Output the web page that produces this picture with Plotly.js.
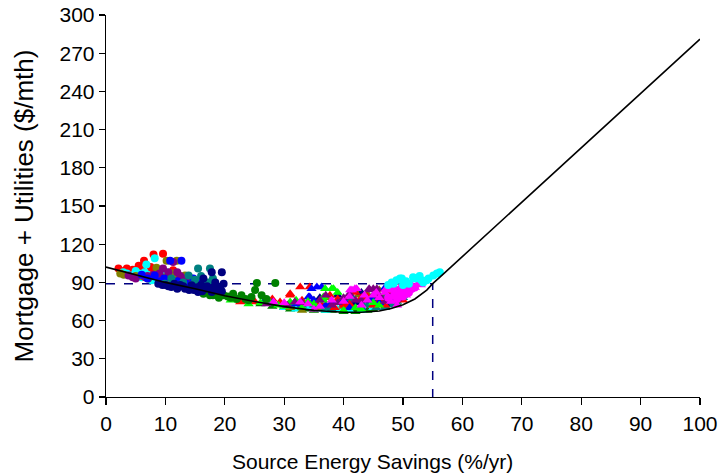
<!DOCTYPE html>
<html>
<head>
<meta charset="utf-8">
<script src="https://cdn.plot.ly/plotly-3.0.1.min.js"></script>
<style>html,body{margin:0;padding:0;background:#fff;}#chart{width:720px;height:475px;}</style>
</head>
<body>
<div id="chart"></div>
<script>
// ---- Data ----
const xTicks = [0,10,20,30,40,50,60,70,80,90,100];
const yTicks = [0,30,60,90,120,150,180,210,240,270,300];

const curveX = [0,5,10,15,20,25,30,35,40,43,46,48,50,52,54,55,57,100];
const curveY = [102,96,90,85,79.5,75,71,68,66.5,66.5,67.5,69.5,72.5,77,84,89,97.5,281];

const refX = [0,55,55];
const refY = [89,89,0];

// circles
const redCircX = [2.1,3.5,5.2,6.4,8.0,9.6,8.2,11.3,10.8,4.5,7.0,12.0,3.0,4,6,7.5,9,10,5.5];
const redCircY = [101,101,99.5,107,112,112.5,98,99.5,93,100,97,96,99,98,100,102,99,96,103];
const cyanCircX = [8.2,6.8,2.9,4.3,10.2,9.4,6.0,7.7,5.5,11.5,3.5,5,7,8.8,10.5,12,6.5,
                   48.4,48.1,48.9,49.5,49.8,51.7,52,53.4,54,54.3,55.1,55.7,56.2,50.5,52.8,47.5,51,53,50];
const cyanCircY = [109,104,98,95.5,98,95.5,94,91.6,97,94,97,99,96,97,95,93,98,
                   89,90,91.6,93,93,94,93,90,91.6,93,95.5,97,98,91,95,88,89,92,88];
const oliveCircX = [10.2,11.9,8.5,2.4,5.0,12.2,13.3,7.1,9.0,14.5,3,6,10,11,13];
const oliveCircY = [107,107,101.5,97,95,95.5,95.5,93,92,90,96,95,94,97,92];
const purpleCircX = [11.3,9.6,13.0,6.6,3.8,13.6,8.0,12.0,5.0,4.5,7,9,10.5,12.5,14];
const purpleCircY = [106,101,93,94,95.5,91.6,96,98,93,94,95,97,98,95,94];
const blueCircX = [10.8,12.7,8.2,11.3,14.7,6.0,9.8,7,9,12,13.5,16];
const blueCircY = [107,107,95.5,90,93,96,93,93,91,91,89,91];
const tealCircX = [15.5,17.5,13.9,12.2,17.2,9.9,15.0,11.0,13,14.5,16,18];
const tealCircY = [101,101,95.5,87.7,90,89,92,93,90,88,95,93];
const navyCircX = [17.8,19.5,16.4,18.4,14.4,11.0,13.3,16.7,19.2,8.8,15.5,17.8,12.5,10.0,15.0,18.0,19.5,14.0,16.0,
                   12,13,14.8,16.2,17,18.6,19.8,11.5,10.5,9.5];
const navyCircY = [98,98,93,90,87.7,86.4,85,85,86.4,89,82.5,82.5,88,88,86,86,83,84,88,
                   85,87,84,83,87,84,89,89,87,88];
const greenCircX = [16.4,19.8,21.4,22.8,24.5,26.2,25.4,28.5,25.1,18.0,23.5,21.0,27.0,20.5,22,24,19,17.5];
const greenCircY = [81,80,81,80,78.5,80,89.5,89.5,84,80,77,78,77,79,77,76,78,80];
const magentaCircX = [48.5,49.5,50.5,51.5,49,50,52,48,51,47.5];
const magentaCircY = [80,82,84,85,77,79,86,85,82,78];

// triangles
const redTriX = [18.6,22.6,25.1,29.3,31,31,32.7,34.3,34.9,37.7,46.5,47,46,40,43,49,38.5,
                 33,36,39,41,44,45,48,50,28,24,42,47.5];
const redTriY = [81,74.6,74.6,74.6,80,81,86.4,86.4,73.3,80,74,72,76,72,78,80,70,
                 76,74,77,73,79,72,83,76,77,76,82,79];
const blueTriX = [26.5,34.1,34.6,35.5,36.3,34.3,44.7,41,30,48,38,32,35,37,40,43,46,49,51,47,28];
const blueTriY = [74.6,78.5,85,86.4,86.4,78.5,77,70,72,78,74,73,76,72,76,70,74,83,87,86,74];
const limeTriX = [27.3,31,36.6,36.9,38,36.6,38.3,24,33,29,42,45,30,32,35,40,43,46,34,26,21,39];
const limeTriY = [76,74.6,76,85,85,78.5,85,73,70,72,70,74,71,76,73,68,69,72,75,74,76,82];
const magentaTriX = [28.2,32.7,41.4,42.2,41.1,41.9,48,49,50,51,48.5,50.5,47,49.5,45,40,36,35,43,52,
                     44,46,47,48.5,50,51.5,52.5,49,45.5,43.5,41,38,34,30,53];
const magentaTriY = [74.6,74.6,84,85,84,85,75,79,82,84,84,80,82,86,80,75,71,69,72,86,
                     76,78,84,87,87,88,89,72,82,80,79,76,73,74,88];
const purpleTriX = [31.8,44.3,45.0,44.4,45.6,30.5,40,42,46,38,47.5,37,39,41,43,47,49,50,36,33,27];
const purpleTriY = [74.6,85,85,84,85,72,78,76,80,72,86,80,74,81,76,75,77,85,76,74,73];
const tealTriX = [43,44,45,45.5,39,41.5,37,47,35,33,36,38,40,42,46,48,44,41,31,47,49,50];
const tealTriY = [74,72,76,70,76,78,70,78,72,72,74,69,73,70,73,72,78,75,72,70,75,78];
const oliveTriX = [35,37,40,42.5,44,33,38,41,45,47,49,36,31,46];
const oliveTriY = [76,78,71,80,81,68,74,72,78,80,81,70,70,84];
const greenTriX = [26,30,34,38,42,44,36,32,28,31,35,40,45,47,49,24,22,37];
const greenTriY = [73,70,69,68,67,68,72,71,71,69,68,67,69,71,73,75,77,68];
const cyanTriX = [34,36,38,39,40,32,33,35,37,41,43,30,45];
const cyanTriY = [70,69,71,69,70,69,70,70,68,68,68,70,70];
const navyTriX = [42,44,46,43,39,40,45,48,36,47,50];
const navyTriY = [74,76,78,82,80,74,80,80,78,73,80];

// ---- Traces ----
function pts(x, y, color, symbol) {
  return {
    type: 'scatter', mode: 'markers', x: x, y: y, hoverinfo: 'skip',
    marker: {color: color, symbol: symbol, size: symbol === 'circle' ? 8 : 9, line: {width: 0}},
    cliponaxis: false
  };
}
const traces = [
  {type: 'scatter', mode: 'lines', x: refX, y: refY, hoverinfo: 'skip',
   line: {color: '#000080', width: 1.5, dash: 'dash'}},
  pts(greenTriX, greenTriY, '#008000', 'triangle-up'),
  pts(cyanTriX, cyanTriY, '#00ffff', 'triangle-up'),
  pts(oliveTriX, oliveTriY, '#808000', 'triangle-up'),
  pts(tealTriX, tealTriY, '#008080', 'triangle-up'),
  pts(navyTriX, navyTriY, '#000080', 'triangle-up'),
  pts(redTriX, redTriY, '#ff0000', 'triangle-up'),
  pts(blueTriX, blueTriY, '#0000ff', 'triangle-up'),
  pts(limeTriX, limeTriY, '#00ff00', 'triangle-up'),
  pts(purpleTriX, purpleTriY, '#800080', 'triangle-up'),
  pts(magentaTriX, magentaTriY, '#ff00ff', 'triangle-up'),
  pts(magentaCircX, magentaCircY, '#ff00ff', 'circle'),
  pts(redCircX, redCircY, '#ff0000', 'circle'),
  pts(cyanCircX, cyanCircY, '#00ffff', 'circle'),
  pts(oliveCircX, oliveCircY, '#808000', 'circle'),
  pts(purpleCircX, purpleCircY, '#800080', 'circle'),
  pts(blueCircX, blueCircY, '#0000ff', 'circle'),
  pts(tealCircX, tealCircY, '#008080', 'circle'),
  pts(greenCircX, greenCircY, '#008000', 'circle'),
  pts(navyCircX, navyCircY, '#000080', 'circle'),
  {type: 'scatter', mode: 'lines', x: curveX, y: curveY, hoverinfo: 'skip',
   line: {color: '#000000', width: 1.6}}
];

const fam = 'Liberation Sans, Arial, sans-serif';
const tickFont = {family: fam, size: 21, color: '#000'};

const layout = {
  width: 720, height: 475,
  margin: {l: 106, r: 20, t: 15, b: 78, pad: 0},
  paper_bgcolor: '#fff', plot_bgcolor: '#fff',
  showlegend: false, hovermode: false,
  xaxis: {
    range: [0, 100], tickvals: xTicks, ticktext: xTicks.map(String),
    showgrid: false, zeroline: false, showline: true, linecolor: '#000', linewidth: 1.3,
    ticks: 'outside', ticklen: 7, tickwidth: 1.2, tickcolor: '#000',
    tickfont: tickFont
  },
  yaxis: {
    range: [0, 300], tickvals: yTicks, ticktext: yTicks.map(String),
    showgrid: false, zeroline: false, showline: true, linecolor: '#000', linewidth: 1.3,
    ticks: 'outside', ticklen: 6, tickwidth: 1.2, tickcolor: '#000',
    tickfont: tickFont,
    title: {text: 'Mortgage + Utilities ($/mth)', font: {family: fam, size: 26, color: '#000'}, standoff: 18}
  },
  annotations: [{
    text: 'Source Energy Savings (%/yr)', xref: 'paper', yref: 'paper',
    x: 0.448, y: -0.168, xanchor: 'center', yanchor: 'middle', showarrow: false,
    font: {family: fam, size: 21, color: '#000'}
  }]
};

Plotly.newPlot('chart', traces, layout, {staticPlot: true, displayModeBar: false});
</script>
</body>
</html>
